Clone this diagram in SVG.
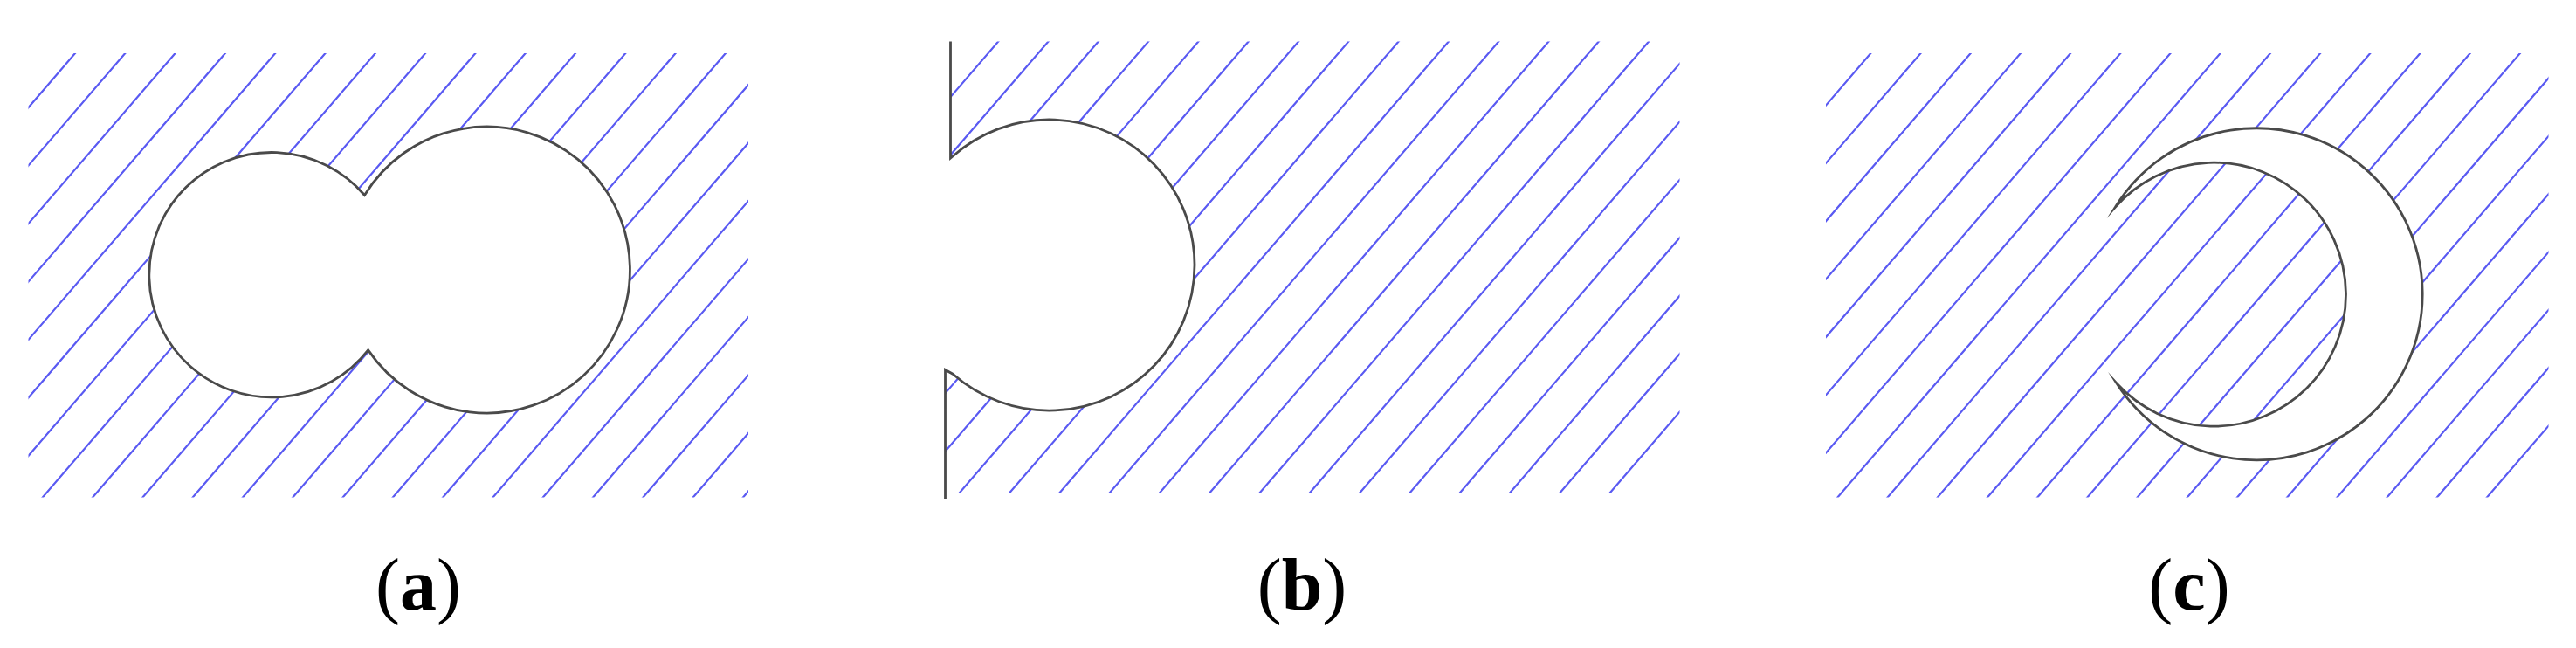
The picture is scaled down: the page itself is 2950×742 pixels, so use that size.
<svg xmlns="http://www.w3.org/2000/svg" width="2950" height="742" viewBox="0 0 2950 742">
<style>
.hatch{fill:none;stroke:#5a5af2;stroke-width:2.2}
.shape{fill:#ffffff;stroke:#4a4a4a;stroke-width:2.8;stroke-linejoin:miter;stroke-miterlimit:20}
.edge{fill:none;stroke:#4a4a4a;stroke-width:2.8}
.lbl{font-family:"Liberation Serif","Times New Roman",serif;font-size:84px;fill:#000}
</style>
<defs>
<clipPath id="clipA"><rect x="32.5" y="61" width="824.5" height="508.5"/></clipPath>
<clipPath id="clipB"><path d="M1088 47.5 H1923.5 V564.5 H1082 V300 H1088 Z"/></clipPath>
<clipPath id="clipC"><rect x="2091" y="61" width="827.5" height="508.5"/></clipPath>
</defs>
<rect width="2950" height="742" fill="#ffffff"/>

<g id="panel-a">
<path class="hatch" clip-path="url(#clipA)" d="M48.4 38.2l-500 580m557.3-580l-500 580m557.3-580l-500 580m557.3-580l-500 580m557.3-580l-500 580m557.3-580l-500 580m557.3-580l-500 580m557.3-580l-500 580m557.3-580l-500 580m557.3-580l-500 580m557.3-580l-500 580m557.3-580l-500 580m557.3-580l-500 580m557.3-580l-500 580m557.3-580l-500 580m557.3-580l-500 580m557.3-580l-500 580m557.3-580l-500 580m557.3-580l-500 580m557.3-580l-500 580m557.3-580l-500 580m557.3-580l-500 580m557.3-580l-500 580"/>
<path class="shape" d="M417.5 223.5 A140.2 140.2 0 1 0 421.6 400.9 A164 164 0 1 0 417.5 223.5 Z"/>
<text class="lbl" x="479" y="698" text-anchor="middle">(<tspan font-weight="bold">a</tspan>)</text>
</g>

<g id="panel-b">
<path class="hatch" clip-path="url(#clipB)" d="M1105.6 24.7l-500 580m557.3-580l-500 580m557.3-580l-500 580m557.3-580l-500 580m557.3-580l-500 580m557.3-580l-500 580m557.3-580l-500 580m557.3-580l-500 580m557.3-580l-500 580m557.3-580l-500 580m557.3-580l-500 580m557.3-580l-500 580m557.3-580l-500 580m557.3-580l-500 580m557.3-580l-500 580m557.3-580l-500 580m557.3-580l-500 580m557.3-580l-500 580m557.3-580l-500 580m557.3-580l-500 580m557.3-580l-500 580m557.3-580l-500 580"/>
<path fill="#ffffff" stroke="none" d="M1089 180 A166.5 166.5 0 1 1 1091 429 L1082 424 V180 Z"/>
<path class="edge" d="M1088.5 47.5 V181 L1091 179 A166.5 166.5 0 1 1 1091.5 428.5 L1082.5 423.5 V571"/>
<text class="lbl" x="1491" y="698" text-anchor="middle">(<tspan font-weight="bold">b</tspan>)</text>
</g>

<g id="panel-c">
<path class="hatch" clip-path="url(#clipC)" d="M2104.8 38.2l-500 580m557.2-580l-500 580m557.2-580l-500 580m557.2-580l-500 580m557.2-580l-500 580m557.2-580l-500 580m557.2-580l-500 580m557.2-580l-500 580m557.2-580l-500 580m557.2-580l-500 580m557.2-580l-500 580m557.2-580l-500 580m557.2-580l-500 580m557.2-580l-500 580m557.2-580l-500 580m557.2-580l-500 580m557.2-580l-500 580m557.2-580l-500 580m557.2-580l-500 580m557.2-580l-500 580m557.2-580l-500 580m557.2-580l-500 580"/>
<path class="shape" d="M2422.5 237 A190 190 0 1 1 2424 439 A151 151 0 1 0 2422.5 237 Z"/>
<text class="lbl" x="2507" y="698" text-anchor="middle">(<tspan font-weight="bold">c</tspan>)</text>
</g>
</svg>
